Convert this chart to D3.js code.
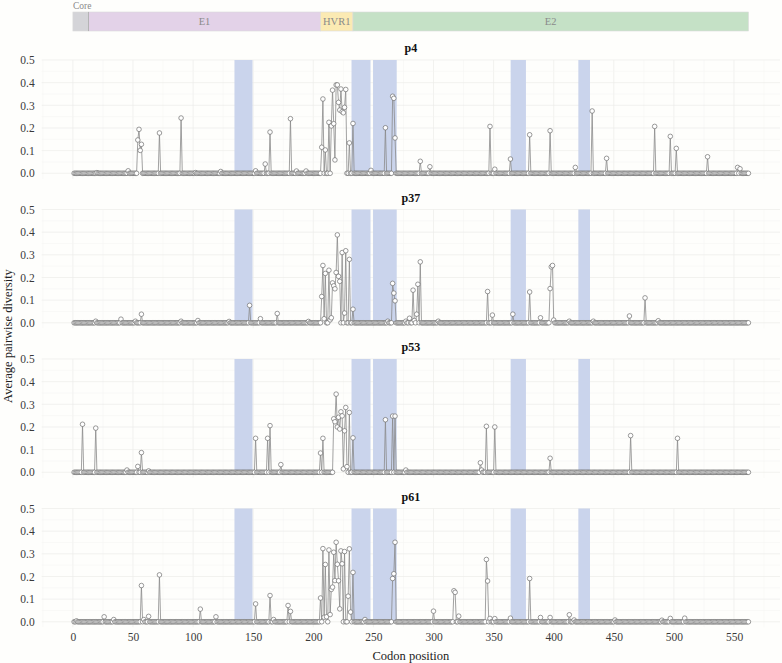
<!DOCTYPE html>
<html><head><meta charset="utf-8">
<script src="https://cdn.jsdelivr.net/npm/d3@7"></script>
<style>
body{margin:0;background:#fefefc;}
svg{display:block;}
svg text{font-family:"Liberation Serif","DejaVu Serif",serif !important;}
</style></head>
<body><svg id="chart" width="782" height="663"></svg>
<script>
// ---- data ----
const panelNames = ["p4", "p37", "p53", "p61"];
const codonCount = 562;
const xTicks = [0, 50, 100, 150, 200, 250, 300, 350, 400, 450, 500, 550];
const yTicks = [0.0, 0.1, 0.2, 0.3, 0.4, 0.5];
const genomeRegions = [
  {name: "Core", start: 0, end: 13, color: "#d4d4d8"},
  {name: "E1", start: 13, end: 206, color: "#e3d2e8"},
  {name: "HVR1", start: 206, end: 233, color: "#fbeab3"},
  {name: "E2", start: 233, end: 562, color: "#c5e1c6"}
];
const shadedRegions = [[134.4, 149.4], [231.8, 247.6], [249.7, 269.4], [364.2, 376.9], [420.5, 430.2]];

// non-zero codons per sample: [codon, average pairwise diversity]; all other codons are 0
const peaksP4 = [[20,0.003],[46,0.011],[54,0.147],[55,0.194],[56,0.101],[57,0.128],[72,0.178],[90,0.244],[102,0.003],[123,0.008],[152,0.011],[160,0.041],[164,0.182],[181,0.241],[186,0.01],[194,0.01],
[207,0.115],[208,0.328],[210,0.103],[213,0.225],[215,0.209],[216,0.367],[217,0.219],[218,0.059],[219,0.39],[220,0.39],[221,0.313],[222,0.279],[223,0.372],[224,0.272],[225,0.267],[226,0.291],[227,0.37],[230,0.134],[233,0.22],[248,0.013],[260,0.201],[266,0.34],[267,0.331],[268,0.156],[289,0.053],[297,0.029],[347,0.207],[351,0.018],[364,0.063],[380,0.17],[397,0.188],[418,0.026],[432,0.275],[444,0.066],[484,0.207],[497,0.163],[502,0.11],[528,0.073],[553,0.026],[555,0.02]];
const peaksP37 = [[19,0.007],[40,0.016],[52,0.007],[57,0.038],[90,0.007],[104,0.01],[130,0.006],[147,0.077],[156,0.018],[170,0.041],[196,0.006],
[207,0.116],[208,0.253],[209,0.018],[210,0.218],[213,0.232],[214,0.013],[215,0.022],[216,0.176],[217,0.163],[218,0.15],[219,0.222],[220,0.388],[221,0.205],[222,0.183],[224,0.31],[226,0.043],[227,0.318],[230,0.28],[233,0.06],[262,0.007],[266,0.174],[267,0.131],[268,0.097],[277,0.007],[280,0.02],[283,0.144],[284,0.01],[286,0.038],[287,0.17],[289,0.269],[304,0.007],[345,0.138],[349,0.034],[366,0.038],[380,0.136],[389,0.022],[397,0.151],[398,0.247],[399,0.253],[400,0.012],[413,0.007],[433,0.007],[463,0.03],[476,0.11],[487,0.009]];
const peaksP53 = [[8,0.212],[19,0.195],[45,0.01],[54,0.026],[57,0.087],[63,0.006],[152,0.15],[162,0.15],[164,0.206],[173,0.034],[206,0.085],[208,0.15],[217,0.236],[218,0.223],[219,0.345],[220,0.2],[221,0.243],[222,0.191],[223,0.267],[224,0.249],[225,0.015],[226,0.183],[227,0.286],[228,0.025],[230,0.264],[233,0.152],[260,0.232],[266,0.248],[268,0.248],[277,0.01],[339,0.042],[340,0.01],[344,0.203],[351,0.2],[397,0.062],[464,0.162],[503,0.15]];
const peaksP61 = [[3,0.004],[26,0.022],[34,0.01],[57,0.16],[59,0.01],[63,0.024],[72,0.207],[106,0.056],[119,0.022],[152,0.079],[164,0.116],[167,0.01],[179,0.072],[181,0.046],[206,0.105],[208,0.323],[209,0.02],[210,0.253],[211,0.022],[213,0.317],[214,0.032],[215,0.143],[216,0.153],[217,0.307],[218,0.182],[219,0.351],[220,0.254],[221,0.181],[222,0.057],[223,0.313],[224,0.256],[226,0.31],[229,0.113],[230,0.322],[231,0.043],[233,0.218],[243,0.01],[266,0.191],[267,0.212],[268,0.351],[300,0.047],[317,0.137],[318,0.13],[321,0.025],[344,0.275],[345,0.18],[347,0.015],[351,0.014],[364,0.016],[380,0.191],[389,0.019],[397,0.019],[413,0.031],[417,0.008],[451,0.008],[490,0.007],[497,0.015],[509,0.016]];
const allPeaks = [peaksP4, peaksP37, peaksP53, peaksP61];

// ---- layout ----
const svg = d3.select("#chart");
const W = 782, H = 663;
svg.append("rect").attr("width", W).attr("height", H).attr("fill", "#fefefc");
const x = d3.scaleLinear().domain([0, 550]).range([72.9, 734]);
const panelLeft = 41.7, panelRight = 780;
const panelTops = [60, 209.5, 359, 508.5];
const panelH = 113.3;

// genome bar
const gb = svg.append("g");
genomeRegions.forEach(r => {
  gb.append("rect").attr("x", x(r.start)).attr("y", 12).attr("width", x(r.end) - x(r.start)).attr("height", 19)
    .attr("fill", r.color).attr("stroke", "#dadada").attr("stroke-width", 0.6);
  if (r.name === "Core") {
    gb.append("text").attr("x", x(r.start)).attr("y", 8.5).attr("font-size", 9.5).attr("fill", "#8a8a8a").text(r.name);
  } else {
    gb.append("text").attr("x", (x(r.start) + x(r.end)) / 2).attr("y", 25).attr("text-anchor", "middle")
      .attr("font-size", 10.5).attr("fill", "#8a8a8a").text(r.name);
  }
});
gb.append("line").attr("x1", x(13)).attr("x2", x(13)).attr("y1", 12).attr("y2", 31).attr("stroke", "#aaa").attr("stroke-width", 0.8);

allPeaks.forEach((peaks, i) => {
  const top = panelTops[i];
  const y = d3.scaleLinear().domain([0, 0.5]).range([top + panelH, top]);
  const bottom = y(-0.024);
  const map = new Map(peaks);
  const series = d3.range(1, codonCount + 1).map(c => ({c, v: map.has(c) ? map.get(c) : 0}));
  const g = svg.append("g");

  // grid
  d3.range(-25, 600, 25).forEach(t => {
    const px = x(t);
    if (px < panelLeft || px > panelRight) return;
    g.append("line").attr("x1", px).attr("x2", px).attr("y1", top).attr("y2", bottom)
      .attr("stroke", t % 50 === 0 ? "#ececea" : "#f4f4f2").attr("stroke-width", t % 50 === 0 ? 0.7 : 0.5);
  });
  d3.range(0, 0.501, 0.05).forEach((t, k) => {
    g.append("line").attr("x1", panelLeft).attr("x2", panelRight).attr("y1", y(t)).attr("y2", y(t))
      .attr("stroke", k % 2 === 0 ? "#ececea" : "#f4f4f2").attr("stroke-width", k % 2 === 0 ? 0.7 : 0.5);
  });

  // shaded regions
  shadedRegions.forEach(([a, b]) => {
    g.append("rect").attr("x", x(a)).attr("y", y(0.5)).attr("width", x(b) - x(a)).attr("height", y(0) - y(0.5))
      .attr("fill", "#cad4ec");
  });

  // line
  g.append("path").datum(series)
    .attr("d", d3.line().x(d => x(d.c)).y(d => y(d.v)))
    .attr("fill", "none").attr("stroke", "#8a8a8a").attr("stroke-width", 0.8);

  // points
  g.selectAll("circle.pt").data(series).join("circle").attr("class", "pt")
    .attr("cx", d => x(d.c)).attr("cy", d => y(d.v)).attr("r", 2.3)
    .attr("fill", "#ffffff").attr("stroke", "#6e6e6e").attr("stroke-width", 0.7);

  // y axis
  const ya = svg.append("g").attr("transform", `translate(${panelLeft},0)`)
    .call(d3.axisLeft(y).tickValues(yTicks).tickFormat(d3.format(".1f")).tickSize(0).tickPadding(7));
  ya.attr("font-family", null);
  ya.select(".domain").remove();
  ya.selectAll("text").attr("font-size", 11.5).attr("fill", "#3a3a3a");

  // title
  svg.append("text").attr("x", (panelLeft + panelRight) / 2).attr("y", top - 8).attr("text-anchor", "middle")
    .attr("font-size", 12).attr("font-weight", "bold").attr("fill", "#111").text(panelNames[i]);

  if (i === 3) {
    const xa = svg.append("g").attr("transform", `translate(0,${bottom})`)
      .call(d3.axisBottom(x).tickValues(xTicks).tickSize(0).tickPadding(6));
    xa.attr("font-family", null);
    xa.select(".domain").remove();
    xa.selectAll("text").attr("font-size", 11.5).attr("fill", "#3a3a3a");
  }
});

svg.append("text").attr("x", (panelLeft + panelRight) / 2).attr("y", 660).attr("text-anchor", "middle")
  .attr("font-size", 12.5).attr("fill", "#222").text("Codon position");
svg.append("text").attr("transform", "translate(12,336) rotate(-90)").attr("text-anchor", "middle")
  .attr("font-size", 12.5).attr("fill", "#222").text("Average pairwise diversity");
</script>
</body></html>
